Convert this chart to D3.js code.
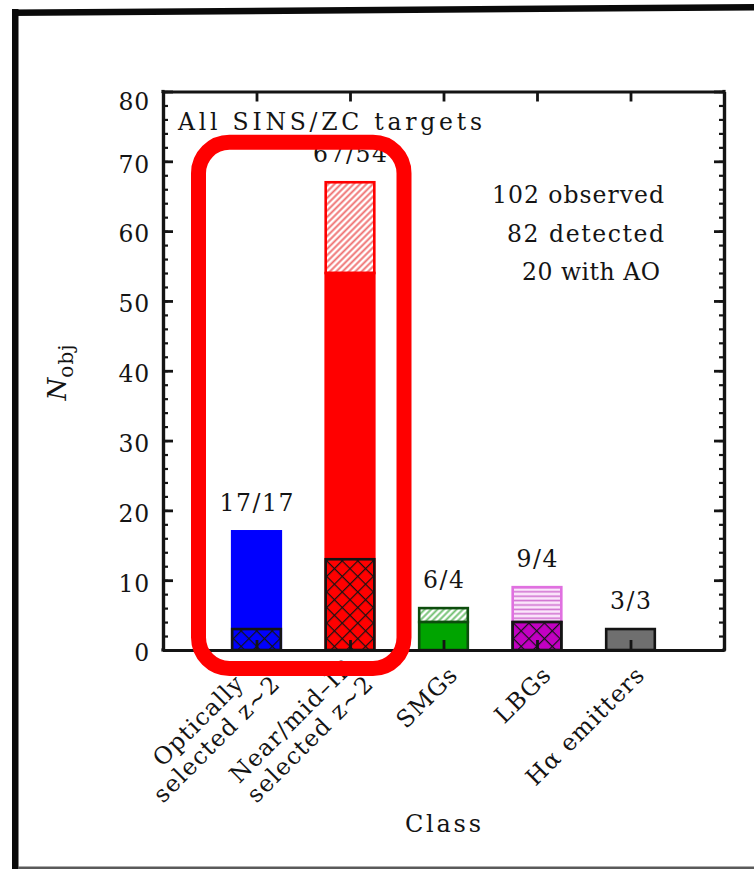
<!DOCTYPE html>
<html>
<head>
<meta charset="utf-8">
<script src="https://cdn.jsdelivr.net/npm/d3@7"></script>
<style>
  html, body { margin: 0; padding: 0; background: #ffffff; }
  svg { display: block; }
  text { font-family: "DejaVu Serif", serif; fill: #141414; }
</style>
</head>
<body>
<svg id="chart" width="754" height="869"></svg>
<script>
// ---- data ---------------------------------------------------------------
const classLabels = [
  ["Optically", "selected z~2"],
  ["Near/mid\u2013IR", "selected z~2"],
  ["SMGs"],
  ["LBGs"],
  ["H\u03b1 emitters"]
];
const observed = [17, 67, 6, 9, 3];
const detected = [17, 54, 4, 4, 3];
const withAO   = [3, 13, 0, 4, 0];

const yMajorTicks = [0, 10, 20, 30, 40, 50, 60, 70, 80];
const yMinorTicks = d3.range(0, 81, 2);
const panelTitle = "All SINS/ZC targets";
const summaryLines = ["102 observed", "82 detected", "20 with AO"];
const xTitle = "Class";

// ---- styles per class ---------------------------------------------------
const fillColors  = ["#0000ff", "#ff0000", "#00a400", "#c200c2", "#6f6f6f"];
const edgeColors  = ["#0000ff", "#ff0000", "#0d4d0d", "#141414", "#141414"];
const hatchKinds  = [null, "diag", "diag", "horiz", null];
const hatchInk    = [null, "#ef7070", "#6fbf6f", "#d070d0", null];
const hatchPaper  = [null, "#ffffff", "#ffffff", "#fbe6fb", null];
const hatchEdges  = [null, "#ff0000", "#0d4d0d", "#e070e0", null];

// wide typewriter-like spacing of the lettering
const summaryWidths = [172, 157, 138];
const summaryRight  = [664, 664, 660];

// ---- layout -------------------------------------------------------------
const svg = d3.select("#chart");
const W = 754, H = 869;
const plot = { left: 163, right: 724, top: 91.5, bottom: 650 };

const x = d3.scaleLinear().domain([0, classLabels.length + 1]).range([plot.left, plot.right]);
const y = d3.scaleLinear().domain([0, 80]).range([plot.bottom, plot.top]);
const barHalf = 0.26;

// ---- outer slide frame --------------------------------------------------
svg.append("rect").attr("x", 0).attr("y", 0).attr("width", W).attr("height", H).attr("fill", "#ffffff");
const frame = svg.append("g");
frame.append("polygon")
  .attr("points", "12,9.5 754,4 754,10.5 12,16")
  .attr("fill", "#0a0a0a");
frame.append("rect").attr("x", 12).attr("y", 9).attr("width", 6.5).attr("height", H - 9).attr("fill", "#0a0a0a");
frame.append("rect").attr("x", 18).attr("y", 866.5).attr("width", W - 18).attr("height", 2.5).attr("fill", "#5a5a5a");

// ---- fill patterns ------------------------------------------------------
const defs = svg.append("defs");
classLabels.forEach((_, i) => {
  if (!hatchKinds[i]) return;
  const p = defs.append("pattern")
    .attr("id", "hatch" + i)
    .attr("patternUnits", "userSpaceOnUse")
    .attr("width", hatchKinds[i] === "horiz" ? 8 : 4.5)
    .attr("height", hatchKinds[i] === "horiz" ? 4.4 : 4.5);
  if (hatchKinds[i] === "horiz") {
    p.append("rect").attr("width", 8).attr("height", 4.4).attr("fill", hatchPaper[i]);
    p.append("line").attr("x1", 0).attr("x2", 8).attr("y1", 2.2).attr("y2", 2.2)
      .attr("stroke", hatchInk[i]).attr("stroke-width", 1.6);
  } else {
    p.attr("patternTransform", "rotate(45)");
    p.append("rect").attr("width", 4.5).attr("height", 4.5).attr("fill", hatchPaper[i]);
    p.append("line").attr("x1", 2.25).attr("x2", 2.25).attr("y1", 0).attr("y2", 4.5)
      .attr("stroke", hatchInk[i]).attr("stroke-width", 1.9);
  }
});
const cross = defs.append("pattern")
  .attr("id", "crosshatch")
  .attr("patternUnits", "userSpaceOnUse")
  .attr("width", 11).attr("height", 11)
  .attr("patternTransform", "rotate(45)");
cross.append("line").attr("x1", 0).attr("x2", 11).attr("y1", 0.5).attr("y2", 0.5)
  .attr("stroke", "#141414").attr("stroke-width", 1.4);
cross.append("line").attr("x1", 0.5).attr("x2", 0.5).attr("y1", 0).attr("y2", 11)
  .attr("stroke", "#141414").attr("stroke-width", 1.4);

// ---- bars ---------------------------------------------------------------
const bars = svg.append("g");
function segment(i, lo, hi, fill, stroke) {
  return bars.append("rect")
    .attr("x", x(i + 1 - barHalf))
    .attr("width", x(i + 1 + barHalf) - x(i + 1 - barHalf))
    .attr("y", y(hi))
    .attr("height", y(lo) - y(hi))
    .attr("fill", fill)
    .attr("stroke", stroke)
    .attr("stroke-width", 2.6);
}
classLabels.forEach((_, i) => {
  if (observed[i] > detected[i]) {
    segment(i, detected[i], observed[i], "url(#hatch" + i + ")", hatchEdges[i]);
  }
  segment(i, 0, detected[i], fillColors[i], edgeColors[i]);
  if (withAO[i] > 0) {
    segment(i, 0, withAO[i], fillColors[i], "none");
    segment(i, 0, withAO[i], "url(#crosshatch)", "#141414");
  }
});

// count labels above each bar
svg.append("g").selectAll("text")
  .data(classLabels.map((_, i) => i))
  .join("text")
  .attr("x", i => x(i + 1) + 0.8)
  .attr("y", i => y(observed[i]) - 20)
  .attr("text-anchor", "middle")
  .attr("font-size", 23.5)
  .attr("letter-spacing", 1.6)
  .text(i => observed[i] + "/" + detected[i]);

// ---- axes ---------------------------------------------------------------
function styleAxis(g, width) {
  g.select(".domain").attr("stroke", "#141414").attr("stroke-width", 3.2);
  g.selectAll(".tick line").attr("stroke", "#141414").attr("stroke-width", width);
}
const catTicks = classLabels.map((_, i) => i + 1);

const leftMinor = svg.append("g").attr("transform", `translate(${plot.left},0)`)
  .call(d3.axisLeft(y).tickValues(yMinorTicks).tickSize(-5).tickSizeOuter(0).tickFormat(""));
styleAxis(leftMinor, 2.2);
const rightMinor = svg.append("g").attr("transform", `translate(${plot.right},0)`)
  .call(d3.axisRight(y).tickValues(yMinorTicks).tickSize(-5).tickSizeOuter(0).tickFormat(""));
styleAxis(rightMinor, 2.2);

const leftAxis = svg.append("g").attr("transform", `translate(${plot.left},0)`)
  .call(d3.axisLeft(y).tickValues(yMajorTicks).tickSize(-10).tickSizeOuter(0).tickPadding(13));
styleAxis(leftAxis, 2.8);
leftAxis.selectAll(".tick text")
  .attr("font-family", "DejaVu Serif, serif")
  .attr("font-size", 23.5)
  .attr("fill", "#141414")
  .attr("letter-spacing", 0.8)
  .attr("dy", d => d === 80 ? "0.78em" : "0.46em");

const rightAxis = svg.append("g").attr("transform", `translate(${plot.right},0)`)
  .call(d3.axisRight(y).tickValues(yMajorTicks).tickSize(-10).tickSizeOuter(0).tickFormat(""));
styleAxis(rightAxis, 2.8);

const topAxis = svg.append("g").attr("transform", `translate(0,${plot.top})`)
  .call(d3.axisTop(x).tickValues(catTicks).tickSize(-10).tickSizeOuter(0).tickFormat(""));
styleAxis(topAxis, 2.8);

const bottomAxis = svg.append("g").attr("transform", `translate(0,${plot.bottom})`)
  .call(d3.axisBottom(x).tickValues(catTicks).tickSize(-10).tickSizeOuter(0).tickFormat(""));
styleAxis(bottomAxis, 2.8);

// corner squares so the thick frame closes cleanly
[[plot.left, plot.top], [plot.right, plot.top], [plot.left, plot.bottom], [plot.right, plot.bottom]]
  .forEach(([cx, cy]) => svg.append("rect").attr("x", cx - 1.6).attr("y", cy - 1.6)
    .attr("width", 3.2).attr("height", 3.2).attr("fill", "#141414"));

// ---- rotated class names ------------------------------------------------
const lineGap = 26;
const xLab = svg.append("g");
classLabels.forEach((lines, i) => {
  const g = xLab.append("g")
    .attr("transform", `translate(${x(i + 1) + 16},676) rotate(-45)`);
  const texts = lines.map((s, k) => g.append("text")
    .attr("font-size", 23.5)
    .attr("letter-spacing", 1.2)
    .attr("text-anchor", "middle")
    .attr("y", (k - (lines.length - 1) / 2) * lineGap)
    .text(s));
  const longest = d3.max(texts, t => t.node().getComputedTextLength());
  texts.forEach(t => t.attr("x", -longest / 2));
});

// ---- titles and notes ---------------------------------------------------
svg.append("text")
  .attr("x", 405)
  .attr("y", 832)
  .attr("font-size", 24)
  .attr("textLength", 76)
  .attr("lengthAdjust", "spacing")
  .text(xTitle);

const yTitle = svg.append("text")
  .attr("transform", "translate(66,372) rotate(-90)")
  .attr("text-anchor", "middle")
  .attr("font-size", 26);
yTitle.append("tspan").attr("font-style", "italic").text("N");
yTitle.append("tspan").attr("font-size", 20).attr("dy", 7).attr("letter-spacing", 1).text("obj");

svg.append("text")
  .attr("x", 178)
  .attr("y", 130)
  .attr("font-size", 23.5)
  .attr("textLength", 304)
  .attr("lengthAdjust", "spacing")
  .text(panelTitle);

svg.append("g").selectAll("text")
  .data(summaryLines)
  .join("text")
  .attr("x", (d, k) => summaryRight[k] - summaryWidths[k])
  .attr("y", (d, k) => 203 + k * 38.5)
  .attr("font-size", 23.5)
  .attr("textLength", (d, k) => summaryWidths[k])
  .attr("lengthAdjust", "spacing")
  .text(d => d);

// ---- highlight box around the two z~2 classes ---------------------------
svg.append("rect")
  .attr("x", x(1) - 58)
  .attr("y", y(observed[1]) - 40)
  .attr("width", (x(2) + 54) - (x(1) - 58))
  .attr("height", (y(0) + 18.5) - (y(observed[1]) - 40))
  .attr("rx", 31).attr("ry", 31)
  .attr("fill", "none")
  .attr("stroke", "#ff0000")
  .attr("stroke-width", 15);
</script>
</body>
</html>
